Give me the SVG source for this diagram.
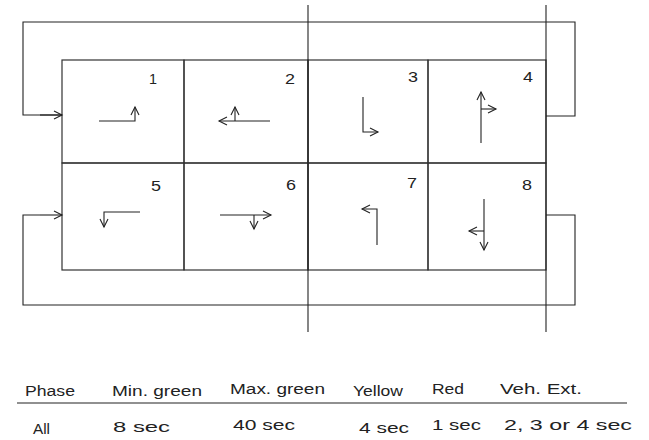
<svg xmlns="http://www.w3.org/2000/svg" width="649" height="440" viewBox="0 0 649 440">
<style>
.ln{fill:none;stroke:#222;stroke-width:1.1}
.cell{fill:none;stroke:#333;stroke-width:1.2}
.num{font-family:"Liberation Sans",Arial,sans-serif;font-size:14px;fill:#222}
.tx{font-family:"Liberation Sans",Arial,sans-serif;font-size:14px;fill:#222}
</style>
<defs>
<marker id="ah" markerUnits="userSpaceOnUse" markerWidth="12" markerHeight="12" viewBox="-10 -6 12 12" refX="0" refY="0" orient="auto">
<path d="M-8,-4 L0,0 L-8,4" fill="none" stroke="#222" stroke-width="1.1"/>
</marker>
</defs>
<rect width="649" height="440" fill="#fff"/>

<g id="cell1"><rect class="cell" x="62" y="60" width="122" height="103"/><text class="num" x="149" y="84" textLength="8" lengthAdjust="spacingAndGlyphs">1</text>
<polyline class="ln" points="99,121 135,121 135,107" marker-end="url(#ah)"/></g>
<g id="cell2"><rect class="cell" x="184" y="60" width="124" height="103"/><text class="num" x="285" y="84" textLength="10" lengthAdjust="spacingAndGlyphs">2</text>
<line class="ln" x1="270" y1="121" x2="219" y2="121" marker-end="url(#ah)"/>
<line class="ln" x1="235" y1="121" x2="235" y2="107" marker-end="url(#ah)"/></g>
<g id="cell3"><rect class="cell" x="308" y="60" width="120" height="103"/><text class="num" x="408" y="82" textLength="10" lengthAdjust="spacingAndGlyphs">3</text>
<polyline class="ln" points="363,97 363,132 378,132" marker-end="url(#ah)"/></g>
<g id="cell4"><rect class="cell" x="428" y="60" width="118" height="103"/><text class="num" x="523" y="82" textLength="10" lengthAdjust="spacingAndGlyphs">4</text>
<line class="ln" x1="481" y1="143" x2="481" y2="92" marker-end="url(#ah)"/>
<line class="ln" x1="481" y1="109" x2="496" y2="109" marker-end="url(#ah)"/></g>
<g id="cell5"><rect class="cell" x="62" y="163" width="122" height="107"/><text class="num" x="151" y="191" textLength="10" lengthAdjust="spacingAndGlyphs">5</text>
<polyline class="ln" points="140,212 104,212 104,227" marker-end="url(#ah)"/></g>
<g id="cell6"><rect class="cell" x="184" y="163" width="124" height="107"/><text class="num" x="286" y="190" textLength="10" lengthAdjust="spacingAndGlyphs">6</text>
<line class="ln" x1="220" y1="215" x2="271" y2="215" marker-end="url(#ah)"/>
<line class="ln" x1="254" y1="215" x2="254" y2="229" marker-end="url(#ah)"/></g>
<g id="cell7"><rect class="cell" x="308" y="163" width="120" height="107"/><text class="num" x="407" y="188" textLength="10" lengthAdjust="spacingAndGlyphs">7</text>
<polyline class="ln" points="377,245 377,209 362,209" marker-end="url(#ah)"/></g>
<g id="cell8"><rect class="cell" x="428" y="163" width="118" height="107"/><text class="num" x="522" y="190" textLength="10" lengthAdjust="spacingAndGlyphs">8</text>
<line class="ln" x1="484" y1="199" x2="484" y2="250" marker-end="url(#ah)"/>
<line class="ln" x1="484" y1="231" x2="469" y2="231" marker-end="url(#ah)"/></g>

<g id="connectors">
<polyline class="ln" points="62,115 23,115 23,22 575,22 575,116 546,116"/>
<line class="ln" x1="40" y1="115" x2="62" y2="115" marker-end="url(#ah)"/>
<polyline class="ln" points="546,215 575,215 575,305 23,305 23,215 40,215"/>
<line class="ln" x1="40" y1="215" x2="62" y2="215" marker-end="url(#ah)"/>
<line class="ln" x1="308" y1="5" x2="308" y2="332" stroke="#444"/>
<line class="ln" x1="546" y1="5" x2="546" y2="332" stroke="#444"/>
</g>

<g id="table">
<text class="tx" x="25" y="396" textLength="50" lengthAdjust="spacingAndGlyphs">Phase</text>
<text class="tx" x="112" y="396" textLength="90" lengthAdjust="spacingAndGlyphs">Min. green</text>
<text class="tx" x="230" y="394" textLength="95" lengthAdjust="spacingAndGlyphs">Max. green</text>
<text class="tx" x="353" y="396" textLength="50" lengthAdjust="spacingAndGlyphs">Yellow</text>
<text class="tx" x="432" y="394" textLength="32" lengthAdjust="spacingAndGlyphs">Red</text>
<text class="tx" x="500" y="394" textLength="82" lengthAdjust="spacingAndGlyphs">Veh. Ext.</text>
<line class="ln" x1="17" y1="403" x2="627" y2="403"/>
<text class="tx" x="33" y="434" textLength="17" lengthAdjust="spacingAndGlyphs">All</text>
<text class="tx" x="113" y="432" textLength="57" lengthAdjust="spacingAndGlyphs">8 sec</text>
<text class="tx" x="233" y="430" textLength="62" lengthAdjust="spacingAndGlyphs">40 sec</text>
<text class="tx" x="359" y="433" textLength="50" lengthAdjust="spacingAndGlyphs">4 sec</text>
<text class="tx" x="432" y="430" textLength="49" lengthAdjust="spacingAndGlyphs">1 sec</text>
<text class="tx" x="504" y="430" textLength="128" lengthAdjust="spacingAndGlyphs">2, 3 or 4 sec</text>
</g>
</svg>
